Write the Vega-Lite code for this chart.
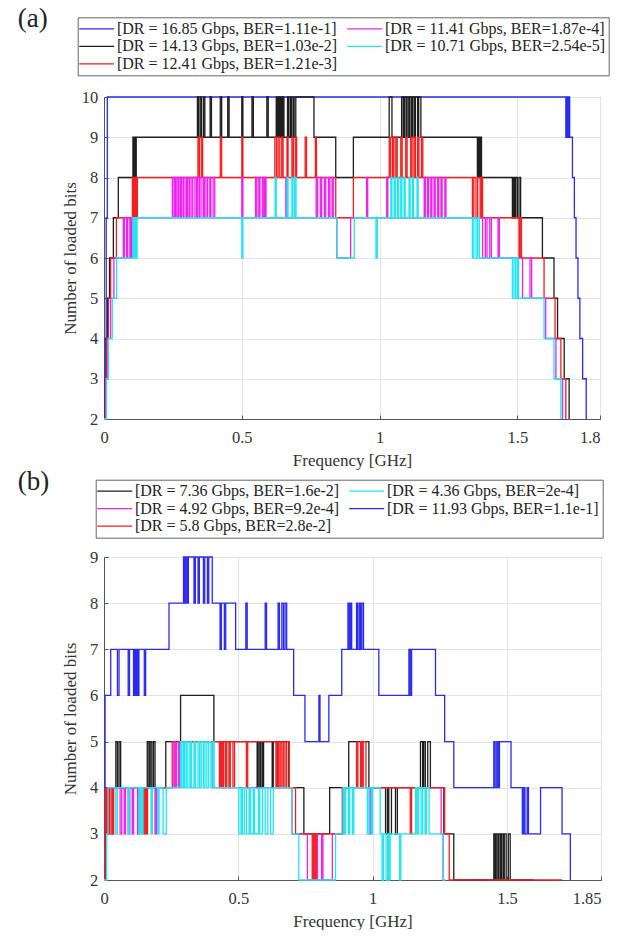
{
"$schema": "https://vega.github.io/schema/vega-lite/v6.json",
"padding": {"left": 17, "top": 4, "right": 0, "bottom": 0},
"background": "white",
"datasets": {
"labels": [
{"k":"A1","label":"[DR = 16.85 Gbps, BER=1.11e-1]"},
{"k":"A2","label":"[DR = 14.13 Gbps, BER=1.03e-2]"},
{"k":"A3","label":"[DR = 12.41 Gbps, BER=1.21e-3]"},
{"k":"A4","label":"[DR = 11.41 Gbps, BER=1.87e-4]"},
{"k":"A5","label":"[DR = 10.71 Gbps, BER=2.54e-5]"},
{"k":"B1","label":"[DR = 7.36 Gbps, BER=1.6e-2]"},
{"k":"B2","label":"[DR = 4.92 Gbps, BER=9.2e-4]"},
{"k":"B3","label":"[DR = 5.8 Gbps, BER=2.8e-2]"},
{"k":"B4","label":"[DR = 4.36 Gbps, BER=2e-4]"},
{"k":"B5","label":"[DR = 11.93 Gbps, BER=1.1e-1]"}
],
"a": [
{"k":"A1","f":0,"b":2},{"k":"A1","f":0.004,"b":4},{"k":"A1","f":0.008,"b":7},{"k":"A1","f":0.012,"b":10},{"k":"A1","f":1.676,"b":9},{"k":"A1","f":1.679,"b":10},{"k":"A1","f":1.683,"b":9},{"k":"A1","f":1.686,"b":10},{"k":"A1","f":1.69,"b":9},{"k":"A1","f":1.7,"b":8},{"k":"A1","f":1.707,"b":7},{"k":"A1","f":1.713,"b":6},{"k":"A1","f":1.72,"b":5},{"k":"A1","f":1.727,"b":4},{"k":"A1","f":1.737,"b":3},{"k":"A1","f":1.75,"b":2},
{"k":"A2","f":0,"b":2},{"k":"A2","f":0.004,"b":3},{"k":"A2","f":0.008,"b":4},{"k":"A2","f":0.013,"b":5},{"k":"A2","f":0.02,"b":6},{"k":"A2","f":0.034,"b":7},{"k":"A2","f":0.052,"b":8},{"k":"A2","f":0.105,"b":9},{"k":"A2","f":0.108,"b":8},{"k":"A2","f":0.111,"b":9},{"k":"A2","f":0.114,"b":8},{"k":"A2","f":0.117,"b":9},
{"k":"A2","f":0.339,"b":10},{"k":"A2","f":0.343,"b":9},{"k":"A2","f":0.349,"b":10},{"k":"A2","f":0.354,"b":9},{"k":"A2","f":0.361,"b":10},{"k":"A2","f":0.366,"b":9},{"k":"A2","f":0.385,"b":10},{"k":"A2","f":0.39,"b":9},{"k":"A2","f":0.422,"b":10},{"k":"A2","f":0.427,"b":9},{"k":"A2","f":0.449,"b":10},{"k":"A2","f":0.454,"b":9},{"k":"A2","f":0.5,"b":10},{"k":"A2","f":0.504,"b":9},{"k":"A2","f":0.537,"b":10},{"k":"A2","f":0.542,"b":9},{"k":"A2","f":0.591,"b":10},{"k":"A2","f":0.596,"b":9},{"k":"A2","f":0.625,"b":10},{"k":"A2","f":0.629,"b":9},{"k":"A2","f":0.633,"b":10},{"k":"A2","f":0.637,"b":9},{"k":"A2","f":0.641,"b":10},{"k":"A2","f":0.645,"b":9},{"k":"A2","f":0.649,"b":10},{"k":"A2","f":0.653,"b":9},{"k":"A2","f":0.666,"b":10},{"k":"A2","f":0.67,"b":9},{"k":"A2","f":0.676,"b":10},{"k":"A2","f":0.68,"b":9},{"k":"A2","f":0.686,"b":10},{"k":"A2","f":0.69,"b":9},{"k":"A2","f":0.696,"b":10},{"k":"A2","f":0.762,"b":9},{"k":"A2","f":0.841,"b":8},{"k":"A2","f":0.905,"b":9},
{"k":"A2","f":1.035,"b":10},{"k":"A2","f":1.045,"b":9},{"k":"A2","f":1.08,"b":10},{"k":"A2","f":1.086,"b":9},{"k":"A2","f":1.09,"b":10},{"k":"A2","f":1.096,"b":9},{"k":"A2","f":1.1,"b":10},{"k":"A2","f":1.106,"b":9},{"k":"A2","f":1.11,"b":10},{"k":"A2","f":1.116,"b":9},{"k":"A2","f":1.12,"b":10},{"k":"A2","f":1.126,"b":9},{"k":"A2","f":1.13,"b":10},{"k":"A2","f":1.138,"b":9},{"k":"A2","f":1.142,"b":10},{"k":"A2","f":1.15,"b":9},
{"k":"A2","f":1.355,"b":8},{"k":"A2","f":1.358,"b":9},{"k":"A2","f":1.362,"b":8},{"k":"A2","f":1.366,"b":9},{"k":"A2","f":1.37,"b":8},{"k":"A2","f":1.482,"b":7},{"k":"A2","f":1.486,"b":8},{"k":"A2","f":1.49,"b":7},{"k":"A2","f":1.494,"b":8},{"k":"A2","f":1.5,"b":7},{"k":"A2","f":1.506,"b":8},{"k":"A2","f":1.512,"b":7},{"k":"A2","f":1.591,"b":6},{"k":"A2","f":1.633,"b":5},{"k":"A2","f":1.646,"b":4},{"k":"A2","f":1.67,"b":3},{"k":"A2","f":1.688,"b":2},
{"k":"A3","f":0,"b":2},{"k":"A3","f":0.005,"b":3},{"k":"A3","f":0.01,"b":4},{"k":"A3","f":0.016,"b":5},{"k":"A3","f":0.024,"b":6},{"k":"A3","f":0.045,"b":7},{"k":"A3","f":0.103,"b":8},{"k":"A3","f":0.106,"b":7},{"k":"A3","f":0.109,"b":8},{"k":"A3","f":0.112,"b":7},{"k":"A3","f":0.115,"b":8},{"k":"A3","f":0.118,"b":7},{"k":"A3","f":0.121,"b":8},
{"k":"A3","f":0.341,"b":9},{"k":"A3","f":0.346,"b":8},{"k":"A3","f":0.353,"b":9},{"k":"A3","f":0.358,"b":8},{"k":"A3","f":0.422,"b":9},{"k":"A3","f":0.427,"b":8},{"k":"A3","f":0.5,"b":9},{"k":"A3","f":0.504,"b":8},{"k":"A3","f":0.62,"b":9},{"k":"A3","f":0.626,"b":8},{"k":"A3","f":0.632,"b":9},{"k":"A3","f":0.638,"b":8},{"k":"A3","f":0.645,"b":9},{"k":"A3","f":0.65,"b":8},{"k":"A3","f":0.664,"b":9},{"k":"A3","f":0.668,"b":8},{"k":"A3","f":0.682,"b":9},{"k":"A3","f":0.687,"b":8},{"k":"A3","f":0.694,"b":9},{"k":"A3","f":0.699,"b":8},{"k":"A3","f":0.73,"b":9},{"k":"A3","f":0.735,"b":8},{"k":"A3","f":0.767,"b":9},{"k":"A3","f":0.771,"b":8},{"k":"A3","f":0.841,"b":7},{"k":"A3","f":0.905,"b":8},
{"k":"A3","f":1.035,"b":9},{"k":"A3","f":1.04,"b":8},{"k":"A3","f":1.047,"b":9},{"k":"A3","f":1.052,"b":8},{"k":"A3","f":1.059,"b":9},{"k":"A3","f":1.064,"b":8},{"k":"A3","f":1.077,"b":9},{"k":"A3","f":1.082,"b":8},{"k":"A3","f":1.095,"b":9},{"k":"A3","f":1.1,"b":8},{"k":"A3","f":1.113,"b":9},{"k":"A3","f":1.118,"b":8},{"k":"A3","f":1.125,"b":9},{"k":"A3","f":1.13,"b":8},{"k":"A3","f":1.138,"b":9},{"k":"A3","f":1.143,"b":8},{"k":"A3","f":1.152,"b":9},{"k":"A3","f":1.157,"b":8},
{"k":"A3","f":1.337,"b":7},{"k":"A3","f":1.342,"b":8},{"k":"A3","f":1.35,"b":7},{"k":"A3","f":1.356,"b":8},{"k":"A3","f":1.365,"b":7},{"k":"A3","f":1.37,"b":8},{"k":"A3","f":1.374,"b":7},{"k":"A3","f":1.506,"b":6},{"k":"A3","f":1.51,"b":7},{"k":"A3","f":1.515,"b":6},{"k":"A3","f":1.597,"b":5},{"k":"A3","f":1.637,"b":4},{"k":"A3","f":1.658,"b":3},{"k":"A3","f":1.676,"b":2},
{"k":"A4","f":0,"b":2},{"k":"A4","f":0.007,"b":3},{"k":"A4","f":0.014,"b":4},{"k":"A4","f":0.024,"b":5},{"k":"A4","f":0.036,"b":6},{"k":"A4","f":0.07,"b":7},{"k":"A4","f":0.074,"b":6},{"k":"A4","f":0.082,"b":7},{"k":"A4","f":0.086,"b":6},{"k":"A4","f":0.094,"b":7},{"k":"A4","f":0.098,"b":6},{"k":"A4","f":0.102,"b":7},
{"k":"A4","f":0.248,"b":8},{"k":"A4","f":0.254,"b":7},{"k":"A4","f":0.258,"b":8},{"k":"A4","f":0.262,"b":7},{"k":"A4","f":0.268,"b":8},{"k":"A4","f":0.272,"b":7},{"k":"A4","f":0.278,"b":8},{"k":"A4","f":0.282,"b":7},{"k":"A4","f":0.288,"b":8},{"k":"A4","f":0.294,"b":7},{"k":"A4","f":0.3,"b":8},{"k":"A4","f":0.304,"b":7},{"k":"A4","f":0.31,"b":8},{"k":"A4","f":0.316,"b":7},{"k":"A4","f":0.322,"b":8},{"k":"A4","f":0.33,"b":7},{"k":"A4","f":0.336,"b":8},{"k":"A4","f":0.34,"b":7},{"k":"A4","f":0.346,"b":8},{"k":"A4","f":0.352,"b":7},{"k":"A4","f":0.36,"b":8},{"k":"A4","f":0.364,"b":7},{"k":"A4","f":0.37,"b":8},{"k":"A4","f":0.376,"b":7},{"k":"A4","f":0.384,"b":8},{"k":"A4","f":0.388,"b":7},{"k":"A4","f":0.396,"b":8},{"k":"A4","f":0.402,"b":7},{"k":"A4","f":0.5,"b":8},{"k":"A4","f":0.504,"b":7},{"k":"A4","f":0.55,"b":8},{"k":"A4","f":0.555,"b":7},{"k":"A4","f":0.562,"b":8},{"k":"A4","f":0.566,"b":7},{"k":"A4","f":0.575,"b":8},{"k":"A4","f":0.58,"b":7},{"k":"A4","f":0.584,"b":8},{"k":"A4","f":0.588,"b":7},{"k":"A4","f":0.66,"b":8},{"k":"A4","f":0.664,"b":7},{"k":"A4","f":0.77,"b":8},{"k":"A4","f":0.775,"b":7},{"k":"A4","f":0.785,"b":8},{"k":"A4","f":0.79,"b":7},{"k":"A4","f":0.8,"b":8},{"k":"A4","f":0.805,"b":7},{"k":"A4","f":0.815,"b":8},{"k":"A4","f":0.82,"b":7},{"k":"A4","f":0.828,"b":8},{"k":"A4","f":0.832,"b":7},{"k":"A4","f":0.845,"b":6},{"k":"A4","f":0.895,"b":7},
{"k":"A4","f":0.953,"b":8},{"k":"A4","f":0.957,"b":7},{"k":"A4","f":1.026,"b":8},{"k":"A4","f":1.03,"b":7},{"k":"A4","f":1.162,"b":8},{"k":"A4","f":1.166,"b":7},{"k":"A4","f":1.174,"b":8},{"k":"A4","f":1.178,"b":7},{"k":"A4","f":1.186,"b":8},{"k":"A4","f":1.19,"b":7},{"k":"A4","f":1.198,"b":8},{"k":"A4","f":1.202,"b":7},{"k":"A4","f":1.211,"b":8},{"k":"A4","f":1.215,"b":7},{"k":"A4","f":1.223,"b":8},{"k":"A4","f":1.227,"b":7},{"k":"A4","f":1.237,"b":8},{"k":"A4","f":1.241,"b":7},
{"k":"A4","f":1.374,"b":6},{"k":"A4","f":1.384,"b":7},{"k":"A4","f":1.39,"b":6},{"k":"A4","f":1.4,"b":7},{"k":"A4","f":1.406,"b":6},{"k":"A4","f":1.43,"b":7},{"k":"A4","f":1.435,"b":6},{"k":"A4","f":1.519,"b":5},{"k":"A4","f":1.546,"b":6},{"k":"A4","f":1.552,"b":5},{"k":"A4","f":1.603,"b":4},{"k":"A4","f":1.64,"b":3},{"k":"A4","f":1.664,"b":2},
{"k":"A5","f":0,"b":2},{"k":"A5","f":0.009,"b":3},{"k":"A5","f":0.016,"b":4},{"k":"A5","f":0.03,"b":5},{"k":"A5","f":0.046,"b":6},{"k":"A5","f":0.105,"b":7},{"k":"A5","f":0.108,"b":6},{"k":"A5","f":0.112,"b":7},{"k":"A5","f":0.116,"b":6},{"k":"A5","f":0.12,"b":7},
{"k":"A5","f":0.5,"b":6},{"k":"A5","f":0.504,"b":7},{"k":"A5","f":0.621,"b":8},{"k":"A5","f":0.625,"b":7},{"k":"A5","f":0.664,"b":8},{"k":"A5","f":0.668,"b":7},{"k":"A5","f":0.682,"b":8},{"k":"A5","f":0.686,"b":7},{"k":"A5","f":0.692,"b":8},{"k":"A5","f":0.697,"b":7},{"k":"A5","f":0.845,"b":6},{"k":"A5","f":0.908,"b":7},{"k":"A5","f":0.987,"b":6},{"k":"A5","f":0.992,"b":7},
{"k":"A5","f":1.041,"b":8},{"k":"A5","f":1.045,"b":7},{"k":"A5","f":1.053,"b":8},{"k":"A5","f":1.057,"b":7},{"k":"A5","f":1.065,"b":8},{"k":"A5","f":1.069,"b":7},{"k":"A5","f":1.077,"b":8},{"k":"A5","f":1.081,"b":7},{"k":"A5","f":1.089,"b":8},{"k":"A5","f":1.093,"b":7},{"k":"A5","f":1.107,"b":8},{"k":"A5","f":1.111,"b":7},{"k":"A5","f":1.119,"b":8},{"k":"A5","f":1.123,"b":7},{"k":"A5","f":1.136,"b":8},{"k":"A5","f":1.14,"b":7},
{"k":"A5","f":1.337,"b":6},{"k":"A5","f":1.342,"b":7},{"k":"A5","f":1.35,"b":6},{"k":"A5","f":1.356,"b":7},{"k":"A5","f":1.362,"b":6},{"k":"A5","f":1.482,"b":5},{"k":"A5","f":1.488,"b":6},{"k":"A5","f":1.494,"b":5},{"k":"A5","f":1.5,"b":6},{"k":"A5","f":1.504,"b":5},{"k":"A5","f":1.597,"b":4},{"k":"A5","f":1.633,"b":3},{"k":"A5","f":1.658,"b":2}
],
"b": [
{"k":"B1","f":0,"b":2},{"k":"B1","f":0.006,"b":4},{"k":"B1","f":0.044,"b":5},{"k":"B1","f":0.05,"b":4},{"k":"B1","f":0.056,"b":5},{"k":"B1","f":0.062,"b":4},{"k":"B1","f":0.161,"b":5},{"k":"B1","f":0.167,"b":4},{"k":"B1","f":0.172,"b":5},{"k":"B1","f":0.178,"b":4},{"k":"B1","f":0.184,"b":5},{"k":"B1","f":0.19,"b":4},{"k":"B1","f":0.23,"b":5},{"k":"B1","f":0.285,"b":6},{"k":"B1","f":0.409,"b":5},
{"k":"B1","f":0.57,"b":4},{"k":"B1","f":0.574,"b":5},{"k":"B1","f":0.58,"b":4},{"k":"B1","f":0.584,"b":5},{"k":"B1","f":0.59,"b":4},{"k":"B1","f":0.594,"b":5},{"k":"B1","f":0.626,"b":4},{"k":"B1","f":0.63,"b":5},{"k":"B1","f":0.645,"b":4},{"k":"B1","f":0.65,"b":5},{"k":"B1","f":0.688,"b":4},{"k":"B1","f":0.744,"b":3},{"k":"B1","f":0.84,"b":4},{"k":"B1","f":0.911,"b":5},{"k":"B1","f":0.986,"b":4},
{"k":"B1","f":1.048,"b":3},{"k":"B1","f":1.055,"b":4},{"k":"B1","f":1.06,"b":3},{"k":"B1","f":1.07,"b":4},{"k":"B1","f":1.085,"b":3},{"k":"B1","f":1.092,"b":4},{"k":"B1","f":1.178,"b":5},{"k":"B1","f":1.186,"b":4},{"k":"B1","f":1.19,"b":5},{"k":"B1","f":1.196,"b":4},{"k":"B1","f":1.205,"b":5},{"k":"B1","f":1.215,"b":4},{"k":"B1","f":1.265,"b":3},{"k":"B1","f":1.302,"b":2},
{"k":"B1","f":1.451,"b":3},{"k":"B1","f":1.456,"b":2},{"k":"B1","f":1.46,"b":3},{"k":"B1","f":1.466,"b":2},{"k":"B1","f":1.47,"b":3},{"k":"B1","f":1.476,"b":2},{"k":"B1","f":1.48,"b":3},{"k":"B1","f":1.486,"b":2},{"k":"B1","f":1.49,"b":3},{"k":"B1","f":1.497,"b":2},{"k":"B1","f":1.505,"b":3},{"k":"B1","f":1.512,"b":2},{"k":"B1","f":1.6,"b":2},
{"k":"B2","f":0,"b":2},{"k":"B2","f":0.008,"b":4},{"k":"B2","f":0.03,"b":3},{"k":"B2","f":0.035,"b":4},{"k":"B2","f":0.06,"b":3},{"k":"B2","f":0.066,"b":4},{"k":"B2","f":0.075,"b":3},{"k":"B2","f":0.08,"b":4},{"k":"B2","f":0.09,"b":3},{"k":"B2","f":0.096,"b":4},{"k":"B2","f":0.105,"b":3},{"k":"B2","f":0.11,"b":4},{"k":"B2","f":0.125,"b":3},{"k":"B2","f":0.13,"b":4},{"k":"B2","f":0.19,"b":3},{"k":"B2","f":0.195,"b":4},
{"k":"B2","f":0.26,"b":5},{"k":"B2","f":0.265,"b":4},{"k":"B2","f":0.27,"b":5},{"k":"B2","f":0.278,"b":4},{"k":"B2","f":0.283,"b":5},{"k":"B2","f":0.403,"b":4},{"k":"B2","f":0.43,"b":5},{"k":"B2","f":0.436,"b":4},
{"k":"B2","f":0.7,"b":3},{"k":"B2","f":0.757,"b":2},{"k":"B2","f":0.79,"b":3},{"k":"B2","f":0.795,"b":2},{"k":"B2","f":0.81,"b":3},{"k":"B2","f":0.815,"b":2},{"k":"B2","f":0.85,"b":3},{"k":"B2","f":0.89,"b":4},{"k":"B2","f":0.99,"b":3},{"k":"B2","f":0.995,"b":4},{"k":"B2","f":1.255,"b":3},{"k":"B2","f":1.262,"b":2},{"k":"B2","f":1.27,"b":2},
{"k":"B3","f":0,"b":2},{"k":"B3","f":0.004,"b":4},{"k":"B3","f":0.01,"b":3},{"k":"B3","f":0.015,"b":4},{"k":"B3","f":0.02,"b":3},{"k":"B3","f":0.026,"b":4},{"k":"B3","f":0.032,"b":3},{"k":"B3","f":0.036,"b":4},{"k":"B3","f":0.148,"b":3},{"k":"B3","f":0.153,"b":4},{"k":"B3","f":0.158,"b":3},{"k":"B3","f":0.162,"b":4},{"k":"B3","f":0.254,"b":5},
{"k":"B3","f":0.43,"b":4},{"k":"B3","f":0.435,"b":5},{"k":"B3","f":0.44,"b":4},{"k":"B3","f":0.445,"b":5},{"k":"B3","f":0.452,"b":4},{"k":"B3","f":0.457,"b":5},{"k":"B3","f":0.465,"b":4},{"k":"B3","f":0.47,"b":5},{"k":"B3","f":0.48,"b":4},{"k":"B3","f":0.486,"b":5},{"k":"B3","f":0.53,"b":4},{"k":"B3","f":0.535,"b":5},{"k":"B3","f":0.64,"b":4},{"k":"B3","f":0.645,"b":5},{"k":"B3","f":0.65,"b":4},{"k":"B3","f":0.656,"b":5},{"k":"B3","f":0.662,"b":4},{"k":"B3","f":0.668,"b":5},{"k":"B3","f":0.674,"b":4},{"k":"B3","f":0.68,"b":5},{"k":"B3","f":0.69,"b":4},{"k":"B3","f":0.713,"b":3},{"k":"B3","f":0.775,"b":2},{"k":"B3","f":0.78,"b":3},{"k":"B3","f":0.785,"b":2},{"k":"B3","f":0.79,"b":3},{"k":"B3","f":0.887,"b":4},
{"k":"B3","f":0.94,"b":5},{"k":"B3","f":0.945,"b":4},{"k":"B3","f":0.955,"b":5},{"k":"B3","f":0.96,"b":4},{"k":"B3","f":0.965,"b":5},{"k":"B3","f":0.975,"b":4},{"k":"B3","f":1.14,"b":3},{"k":"B3","f":1.145,"b":4},{"k":"B3","f":1.268,"b":3},{"k":"B3","f":1.285,"b":2},{"k":"B3","f":1.705,"b":2},
{"k":"B4","f":0,"b":2},{"k":"B4","f":0.01,"b":3},{"k":"B4","f":0.015,"b":4},{"k":"B4","f":0.044,"b":3},{"k":"B4","f":0.05,"b":4},{"k":"B4","f":0.09,"b":3},{"k":"B4","f":0.095,"b":4},{"k":"B4","f":0.13,"b":3},{"k":"B4","f":0.135,"b":4},{"k":"B4","f":0.14,"b":3},{"k":"B4","f":0.145,"b":4},{"k":"B4","f":0.175,"b":3},{"k":"B4","f":0.18,"b":4},{"k":"B4","f":0.2,"b":3},{"k":"B4","f":0.205,"b":4},{"k":"B4","f":0.22,"b":3},{"k":"B4","f":0.232,"b":4},
{"k":"B4","f":0.285,"b":5},{"k":"B4","f":0.29,"b":4},{"k":"B4","f":0.296,"b":5},{"k":"B4","f":0.3,"b":4},{"k":"B4","f":0.306,"b":5},{"k":"B4","f":0.312,"b":4},{"k":"B4","f":0.32,"b":5},{"k":"B4","f":0.325,"b":4},{"k":"B4","f":0.335,"b":5},{"k":"B4","f":0.34,"b":4},{"k":"B4","f":0.35,"b":5},{"k":"B4","f":0.356,"b":4},{"k":"B4","f":0.362,"b":5},{"k":"B4","f":0.37,"b":4},{"k":"B4","f":0.376,"b":5},{"k":"B4","f":0.383,"b":4},{"k":"B4","f":0.39,"b":5},{"k":"B4","f":0.398,"b":4},{"k":"B4","f":0.405,"b":5},{"k":"B4","f":0.41,"b":4},
{"k":"B4","f":0.502,"b":3},{"k":"B4","f":0.51,"b":4},{"k":"B4","f":0.515,"b":3},{"k":"B4","f":0.522,"b":4},{"k":"B4","f":0.53,"b":3},{"k":"B4","f":0.54,"b":4},{"k":"B4","f":0.545,"b":3},{"k":"B4","f":0.555,"b":4},{"k":"B4","f":0.56,"b":3},{"k":"B4","f":0.575,"b":4},{"k":"B4","f":0.58,"b":3},{"k":"B4","f":0.59,"b":4},{"k":"B4","f":0.6,"b":3},{"k":"B4","f":0.61,"b":4},{"k":"B4","f":0.62,"b":3},{"k":"B4","f":0.63,"b":4},
{"k":"B4","f":0.7,"b":3},{"k":"B4","f":0.725,"b":2},{"k":"B4","f":0.862,"b":3},{"k":"B4","f":0.89,"b":4},{"k":"B4","f":0.895,"b":3},{"k":"B4","f":0.9,"b":4},{"k":"B4","f":0.91,"b":3},{"k":"B4","f":0.915,"b":4},{"k":"B4","f":0.925,"b":3},{"k":"B4","f":0.93,"b":4},
{"k":"B4","f":0.98,"b":3},{"k":"B4","f":0.986,"b":4},{"k":"B4","f":0.995,"b":3},{"k":"B4","f":1.0,"b":4},{"k":"B4","f":1.028,"b":3},{"k":"B4","f":1.035,"b":2},{"k":"B4","f":1.04,"b":3},{"k":"B4","f":1.05,"b":2},{"k":"B4","f":1.056,"b":3},{"k":"B4","f":1.06,"b":2},{"k":"B4","f":1.065,"b":3},{"k":"B4","f":1.1,"b":2},{"k":"B4","f":1.105,"b":3},{"k":"B4","f":1.16,"b":4},{"k":"B4","f":1.165,"b":3},{"k":"B4","f":1.17,"b":4},{"k":"B4","f":1.18,"b":3},{"k":"B4","f":1.186,"b":4},{"k":"B4","f":1.195,"b":3},{"k":"B4","f":1.2,"b":4},{"k":"B4","f":1.21,"b":3},{"k":"B4","f":1.262,"b":2},{"k":"B4","f":1.27,"b":2},
{"k":"B5","f":0,"b":4},{"k":"B5","f":0.004,"b":6},{"k":"B5","f":0.025,"b":7},{"k":"B5","f":0.05,"b":6},{"k":"B5","f":0.056,"b":7},{"k":"B5","f":0.09,"b":6},{"k":"B5","f":0.095,"b":7},{"k":"B5","f":0.11,"b":6},{"k":"B5","f":0.114,"b":7},{"k":"B5","f":0.118,"b":6},{"k":"B5","f":0.122,"b":7},{"k":"B5","f":0.126,"b":6},{"k":"B5","f":0.13,"b":7},{"k":"B5","f":0.15,"b":6},{"k":"B5","f":0.155,"b":7},{"k":"B5","f":0.242,"b":8},
{"k":"B5","f":0.296,"b":9},{"k":"B5","f":0.3,"b":8},{"k":"B5","f":0.305,"b":9},{"k":"B5","f":0.31,"b":8},{"k":"B5","f":0.314,"b":9},{"k":"B5","f":0.335,"b":8},{"k":"B5","f":0.34,"b":9},{"k":"B5","f":0.35,"b":8},{"k":"B5","f":0.355,"b":9},{"k":"B5","f":0.37,"b":8},{"k":"B5","f":0.375,"b":9},{"k":"B5","f":0.385,"b":8},{"k":"B5","f":0.39,"b":9},{"k":"B5","f":0.403,"b":8},
{"k":"B5","f":0.432,"b":7},{"k":"B5","f":0.437,"b":8},{"k":"B5","f":0.448,"b":7},{"k":"B5","f":0.453,"b":8},{"k":"B5","f":0.49,"b":7},{"k":"B5","f":0.528,"b":8},{"k":"B5","f":0.533,"b":7},{"k":"B5","f":0.6,"b":8},{"k":"B5","f":0.605,"b":7},{"k":"B5","f":0.648,"b":8},{"k":"B5","f":0.653,"b":7},{"k":"B5","f":0.662,"b":8},{"k":"B5","f":0.668,"b":7},{"k":"B5","f":0.674,"b":8},{"k":"B5","f":0.68,"b":7},{"k":"B5","f":0.706,"b":6},{"k":"B5","f":0.748,"b":5},{"k":"B5","f":0.8,"b":6},{"k":"B5","f":0.804,"b":5},{"k":"B5","f":0.837,"b":6},{"k":"B5","f":0.885,"b":7},
{"k":"B5","f":0.908,"b":8},{"k":"B5","f":0.913,"b":7},{"k":"B5","f":0.918,"b":8},{"k":"B5","f":0.922,"b":7},{"k":"B5","f":0.94,"b":8},{"k":"B5","f":0.944,"b":7},{"k":"B5","f":0.95,"b":8},{"k":"B5","f":0.955,"b":7},{"k":"B5","f":0.96,"b":8},{"k":"B5","f":0.966,"b":7},
{"k":"B5","f":1.023,"b":6},{"k":"B5","f":1.135,"b":7},{"k":"B5","f":1.14,"b":6},{"k":"B5","f":1.145,"b":7},{"k":"B5","f":1.234,"b":6},{"k":"B5","f":1.268,"b":5},{"k":"B5","f":1.302,"b":4},
{"k":"B5","f":1.451,"b":5},{"k":"B5","f":1.456,"b":4},{"k":"B5","f":1.462,"b":5},{"k":"B5","f":1.467,"b":4},{"k":"B5","f":1.472,"b":5},{"k":"B5","f":1.515,"b":4},{"k":"B5","f":1.557,"b":3},{"k":"B5","f":1.562,"b":4},{"k":"B5","f":1.567,"b":3},{"k":"B5","f":1.575,"b":4},{"k":"B5","f":1.58,"b":3},{"k":"B5","f":1.625,"b":4},{"k":"B5","f":1.705,"b":3},{"k":"B5","f":1.736,"b":2}
]
},
"concat": [
{
"width": 496, "height": 322,
"title": {"text": "(a)", "anchor": "start", "frame": "group", "orient": "top", "offset": 0, "dx": -86.3, "dy": 29, "fontSize": 27, "font": "Liberation Serif", "fontWeight": "normal", "baseline": "middle", "color": "#222"},
"data": {"name": "a"},
"transform": [{"lookup": "k", "from": {"data": {"name": "labels"}, "key": "k", "fields": ["label"]}}],
"mark": {"type": "line", "interpolate": "step-after", "strokeWidth": 1.3},
"encoding": {
"x": {"field": "f", "type": "quantitative", "scale": {"domain": [0, 1.8], "nice": false, "zero": false}, "axis": {"values": [0, 0.5, 1, 1.5, 1.8], "title": "Frequency [GHz]", "labelExpr": "'' + datum.value", "labelAlign": {"condition": {"test": "datum.value >= 1.8", "value": "right"}, "value": "center"}}},
"y": {"field": "b", "type": "quantitative", "scale": {"domain": [2, 10], "nice": false, "zero": false}, "axis": {"values": [2,3,4,5,6,7,8,9,10], "title": "Number of loaded bits", "titlePadding": 1.5}},
"color": {"field": "label", "type": "nominal", "sort": null,
"scale": {"domain": ["[DR = 16.85 Gbps, BER=1.11e-1]", "[DR = 14.13 Gbps, BER=1.03e-2]", "[DR = 12.41 Gbps, BER=1.21e-3]", "[DR = 11.41 Gbps, BER=1.87e-4]", "[DR = 10.71 Gbps, BER=2.54e-5]"], "range": ["#2a2af0", "#1e1e1e", "#f51e1e", "#f020f0", "#20e6f0"]},
"legend": {"orient": "none", "legendX": -26.3, "legendY": -79.7, "direction": "vertical", "columns": 2, "title": null}}
}
},
{
"width": 497, "height": 323,
"title": {"text": "(b)", "anchor": "start", "frame": "group", "orient": "top", "offset": 0, "dx": -86.3, "dy": 30, "fontSize": 27, "font": "Liberation Serif", "fontWeight": "normal", "baseline": "middle", "color": "#222"},
"data": {"name": "b"},
"transform": [{"lookup": "k", "from": {"data": {"name": "labels"}, "key": "k", "fields": ["label"]}}],
"mark": {"type": "line", "interpolate": "step-after", "strokeWidth": 1.3},
"encoding": {
"x": {"field": "f", "type": "quantitative", "scale": {"domain": [0, 1.85], "nice": false, "zero": false}, "axis": {"values": [0, 0.5, 1, 1.5, 1.85], "title": "Frequency [GHz]", "labelExpr": "'' + datum.value", "labelAlign": {"condition": {"test": "datum.value >= 1.85", "value": "right"}, "value": "center"}}},
"y": {"field": "b", "type": "quantitative", "scale": {"domain": [2, 9], "nice": false, "zero": false}, "axis": {"values": [2,3,4,5,6,7,8,9], "title": "Number of loaded bits", "titlePadding": 9.5}},
"color": {"field": "label", "type": "nominal", "sort": null,
"scale": {"domain": ["[DR = 7.36 Gbps, BER=1.6e-2]", "[DR = 4.92 Gbps, BER=9.2e-4]", "[DR = 5.8 Gbps, BER=2.8e-2]", "[DR = 4.36 Gbps, BER=2e-4]", "[DR = 11.93 Gbps, BER=1.1e-1]"], "range": ["#1e1e1e", "#f020f0", "#f51e1e", "#20e6f0", "#2a2af0"]},
"legend": {"orient": "none", "legendX": -8.3, "legendY": -77.3, "direction": "vertical", "columns": 2, "title": null}}
}
}
],
"columns": 1,
"spacing": -2,
"resolve": {"scale": {"color": "independent"}, "legend": {"color": "independent"}},
"config": {
"font": "Liberation Serif",
"view": {"stroke": "#555", "strokeWidth": 1},
"axis": {"labelFont": "Liberation Serif", "labelFontSize": 16.5, "labelColor": "#333", "titleFont": "Liberation Serif", "titleFontSize": 17, "titleFontWeight": "normal", "titleColor": "#333", "gridColor": "#e4e4e4", "domainColor": "#555", "tickColor": "#555", "tickSize": -4, "labelFlush": false, "labelOverlap": false},
"axisX": {"labelPadding": 14.5, "titlePadding": 6.2},
"axisY": {"labelPadding": 10.3},
"legend": {"symbolType": "M-2,0H5", "symbolSize": 100, "symbolStrokeWidth": 1.3, "labelFont": "Liberation Serif", "labelFontSize": 16, "labelColor": "#222", "labelOffset": 19.7, "labelLimit": 0, "padding": 3.5, "rowPadding": 1.5, "columnPadding": 7, "strokeColor": "#666", "fillColor": "white", "symbolFillColor": "transparent"}
}
}
